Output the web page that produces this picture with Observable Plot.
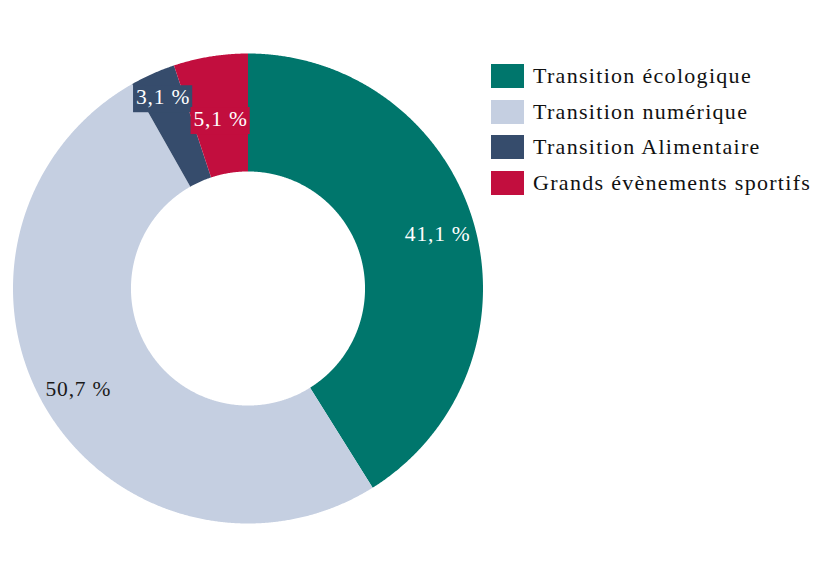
<!DOCTYPE html>
<html><head><meta charset="utf-8">
<script src="https://cdn.jsdelivr.net/npm/d3@7"></script>
<script src="https://cdn.jsdelivr.net/npm/@observablehq/plot@0.6"></script>
<style>
body{margin:0;background:#fff;font-family:"Liberation Serif",serif;}
#wrap{position:relative;width:832px;height:576px;}
#legend{position:absolute;left:491px;top:64px;}
.item{display:flex;align-items:center;height:24px;margin-bottom:11.7px;font-size:22px;letter-spacing:1.3px;color:#111;white-space:nowrap;}
.sw{width:33px;height:24px;margin-right:9px;flex:none;}
</style></head><body><div id="wrap"><div id="chart"></div><div id="legend"></div></div>
<script>
const categories = ["Transition écologique","Transition numérique","Transition Alimentaire","Grands évènements sportifs"];
const values = [41.1, 50.7, 3.1, 5.1];
const valueLabels = ["41,1 %","50,7 %","3,1 %","5,1 %"];
const colors = ["#00766c","#c5cfe1","#364c6c","#c20e3e"];
const textColors = ["#ffffff","#1a1a1a","#ffffff","#ffffff"];

const data = categories.map((c,i)=>({cat:c, value:values[i], label:valueLabels[i], color:colors[i], tcolor:textColors[i]}));
const arcs = d3.pie().sort(null).value(d=>d.value)(data);
const inner = 0.498;
const labelR = {"Transition écologique":0.84,"Transition numérique":0.84,"Transition Alimentaire":0.89,"Grands évènements sportifs":0.73};

const pts = [];
for (const a of arcs) {
  const n = Math.max(4, Math.ceil((a.endAngle - a.startAngle)/0.005));
  for (let k=0;k<=n;k++){ const t=a.startAngle+(a.endAngle-a.startAngle)*k/n; pts.push({cat:a.data.cat, x:Math.sin(t), y:Math.cos(t)}); }
  for (let k=n;k>=0;k--){ const t=a.startAngle+(a.endAngle-a.startAngle)*k/n; pts.push({cat:a.data.cat, x:inner*Math.sin(t), y:inner*Math.cos(t)}); }
}
const labs = arcs.map(a=>{ const m=(a.startAngle+a.endAngle)/2, r=labelR[a.data.cat]; return {...a.data, x:r*Math.sin(m), y:r*Math.cos(m), boxed:a.data.value<10}; });

const cx=247.5, cy=288, R=235;
const chart = Plot.plot({
  width:832, height:576, margin:0,
  x:{domain:[-1,1], range:[cx-R,cx+R], axis:null},
  y:{domain:[-1,1], range:[cy+R,cy-R], axis:null},
  color:{domain:categories, range:colors},
  style:{fontFamily:"Liberation Serif, serif", background:"#fff"},
  marks:[
    Plot.line(pts,{x:"x", y:"y", z:"cat", fill:"cat", stroke:null, curve:"linear-closed"}),
    Plot.text(labs,{x:"x", y:"y", text:"label", fill:"tcolor", fontSize:21.5, className:"vlabels"})
  ]
});
document.getElementById("chart").append(chart);
chart.querySelectorAll("g.vlabels text").forEach(t=>t.style.letterSpacing="0.8px");

// background boxes for small-slice labels
const texts = chart.querySelectorAll("g.vlabels text");
texts.forEach((t,i)=>{
  const d = labs[i];
  if (!d.boxed) return;
  const b = t.getBBox();
  const r = document.createElementNS("http://www.w3.org/2000/svg","rect");
  r.setAttribute("x", b.x-3); r.setAttribute("y", b.y);
  r.setAttribute("width", b.width+5); r.setAttribute("height", b.height+3);
  r.setAttribute("fill", d.color);
  const tr = t.getAttribute("transform"); if (tr) r.setAttribute("transform", tr);
  t.parentNode.insertBefore(r, t);
});

const leg = document.getElementById("legend");
categories.forEach((c,i)=>{
  const it=document.createElement("div"); it.className="item";
  const sw=document.createElement("div"); sw.className="sw"; sw.style.background=colors[i];
  const tx=document.createElement("span"); tx.textContent=c;
  it.append(sw,tx); leg.append(it);
});
</script></body></html>
